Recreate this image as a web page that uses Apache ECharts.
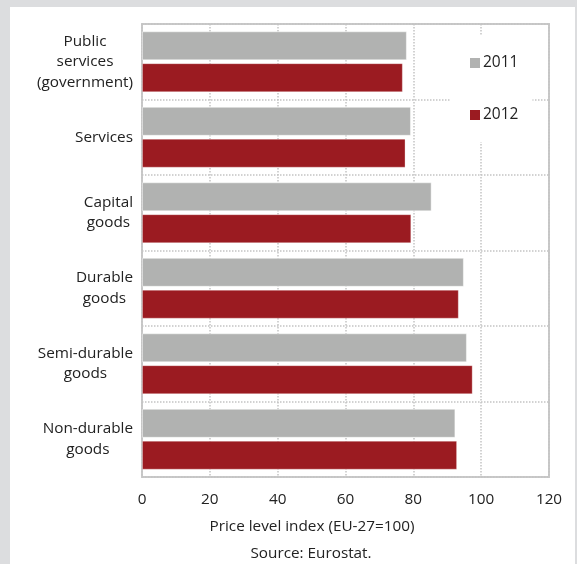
<!DOCTYPE html>
<html>
<head>
<meta charset="utf-8">
<script src="https://cdn.jsdelivr.net/npm/echarts@6/dist/echarts.min.js"></script>
<style>
html,body{margin:0;padding:0;background:#dcdddf;}
#chart{width:577px;height:564px;}
</style>
</head>
<body>
<div id="chart"></div>
<script>
const categories = ['Public\nservices\n(government)', 'Services', 'Capital\ngoods', 'Durable\ngoods', 'Semi-durable\ngoods', 'Non-durable\ngoods'];
const values2011 = [78.1, 79.3, 85.4, 94.9, 95.8, 92.4];
const values2012 = [76.9, 77.7, 79.4, 93.4, 97.5, 92.9];
const xTicks = { min: 0, max: 120, interval: 20 };
const seriesNames = ['2011', '2012'];

const FONT = '"Open Sans", sans-serif';
const FS = 15.3;
const chart = echarts.init(document.getElementById('chart'), null, { renderer: 'canvas' });

chart.setOption({
  backgroundColor: '#dcdddf',
  animation: false,
  textStyle: { fontFamily: FONT },
  graphic: [
    { type: 'rect', z: -10, shape: { x: 10, y: 7, width: 565, height: 560 }, style: { fill: '#ffffff' }, silent: true },
    { type: 'text', x: 311, y: 553.5, style: { text: 'Source: Eurostat.', fill: '#222', font: FS + 'px ' + FONT, textAlign: 'center', textVerticalAlign: 'middle' } }
  ],
  grid: {
    left: 142, right: 28, top: 24, bottom: 87,
    show: true, borderColor: '#c9c9c9', borderWidth: 2, backgroundColor: 'transparent'
  },
  legend: {
    orient: 'vertical', left: 451, top: 36,
    padding: [19, 14, 19, 19], itemGap: 36,
    backgroundColor: '#ffffff',
    itemWidth: 10, itemHeight: 10, icon: 'rect',
    itemStyle: { borderWidth: 0 },
    textStyle: { fontSize: 15.5, color: '#222', fontFamily: FONT, padding: [0, 0, 0, -2] },
    data: seriesNames
  },
  xAxis: {
    type: 'value', min: xTicks.min, max: xTicks.max, interval: xTicks.interval,
    axisLine: { show: false }, axisTick: { show: false },
    axisLabel: { color: '#222', fontSize: FS, margin: 15, fontFamily: FONT },
    splitLine: { show: true, lineStyle: { type: [1.5, 1.5], color: '#c4c4c4', width: 1.5 } },
    name: 'Price level index (EU-27=100)', nameLocation: 'middle', nameGap: 42,
    nameTextStyle: { color: '#222', fontSize: FS, fontFamily: FONT, padding: [0, 67, 0, 0] }
  },
  yAxis: {
    type: 'category', inverse: true, data: categories,
    axisLine: { show: false }, axisTick: { show: false },
    axisLabel: {
      color: '#222', fontSize: FS, margin: 9, fontFamily: FONT, lineHeight: 20.5,
      formatter: function (v) { return v.split('\n').map(function (s) { return '{c|' + s + '}'; }).join('\n'); },
      rich: { c: { align: 'center', color: '#222', fontSize: FS, lineHeight: 20.5, fontFamily: FONT } }
    },
    splitLine: { show: true, lineStyle: { type: [1.5, 1.5], color: '#c4c4c4', width: 1.5 } }
  },
  series: [
    { name: seriesNames[0], type: 'bar', data: values2011, barWidth: 29, barGap: '10%',
      itemStyle: { color: '#b1b2b1', borderColor: 'rgba(255,255,255,0.45)', borderWidth: 1 } },
    { name: seriesNames[1], type: 'bar', data: values2012, barWidth: 29, barGap: '10%',
      itemStyle: { color: '#9b1b21', borderColor: 'rgba(255,255,255,0.3)', borderWidth: 1 } }
  ]
});
</script>
</body>
</html>
